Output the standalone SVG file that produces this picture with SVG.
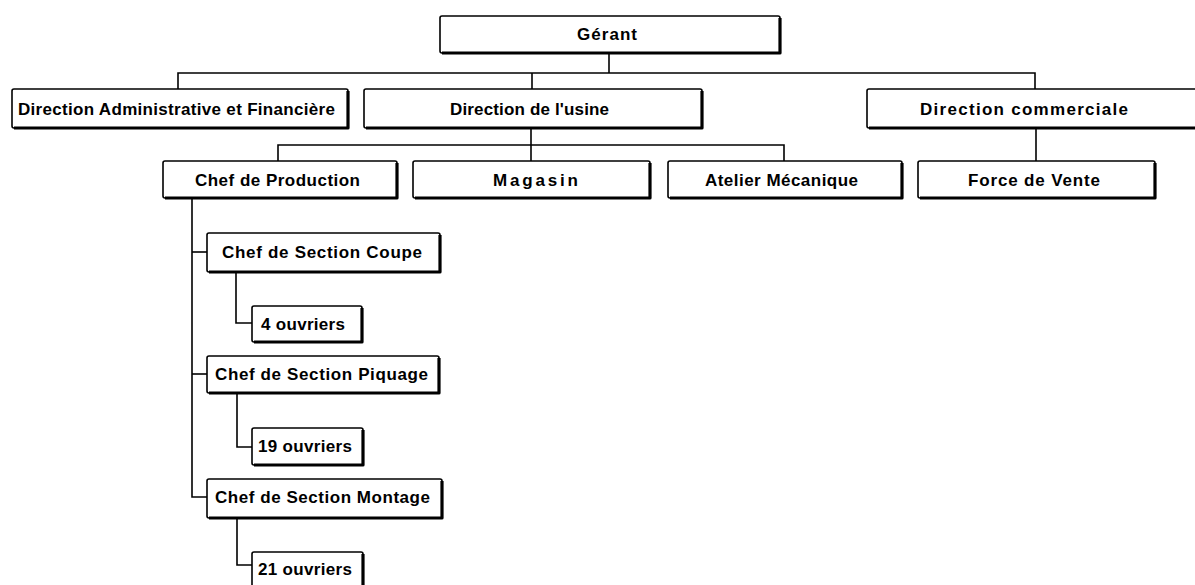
<svg xmlns="http://www.w3.org/2000/svg" width="1195" height="585" viewBox="0 0 1195 585">
<style>
.box{fill:#fff;stroke:#000;stroke-width:1.6}
.sh{fill:none;stroke:#000;stroke-width:3.2;stroke-linejoin:round}
.lbl{font-family:"Liberation Sans",Arial,sans-serif;font-size:17px;font-weight:bold;fill:#000}
.con{fill:none;stroke:#000;stroke-width:1.6}
</style>
<rect width="1195" height="585" fill="#fff"/>
<g id="connectors">
<path class="con" d="M609,53 V73"/>
<path class="con" d="M178,89 V73 H1035 V89"/>
<path class="con" d="M532,73 V89"/>
<path class="con" d="M531,128 V161"/>
<path class="con" d="M278,161 V145 H784 V161"/>
<path class="con" d="M1036,128 V161"/>
<path class="con" d="M192,198 V497 H207"/>
<path class="con" d="M192,252 H207"/>
<path class="con" d="M192,374 H207"/>
<path class="con" d="M236,272 V323 H252"/>
<path class="con" d="M237,393 V447 H252"/>
<path class="con" d="M237,518 V565 H252"/>
</g>
<g id="gerant"><rect class="box" x="440" y="16" width="340" height="37" rx="2"/><path class="sh" d="M780,18 V53 H442"/><text class="lbl" x="577" y="40" textLength="60" lengthAdjust="spacing">Gérant</text></g>
<g id="daf"><rect class="box" x="12" y="89" width="336" height="39" rx="2"/><path class="sh" d="M348,91 V128 H14"/><text class="lbl" x="18" y="115" textLength="317" lengthAdjust="spacing">Direction Administrative et Financière</text></g>
<g id="usine"><rect class="box" x="364" y="89" width="338" height="39" rx="2"/><path class="sh" d="M702,91 V128 H366"/><text class="lbl" x="450" y="115" textLength="159" lengthAdjust="spacing">Direction de l'usine</text></g>
<g id="commerciale"><rect class="box" x="867" y="89" width="340" height="39" rx="2"/><path class="sh" d="M1207,91 V128 H869"/><text class="lbl" x="920" y="115" textLength="208" lengthAdjust="spacing">Direction commerciale</text></g>
<g id="production"><rect class="box" x="163" y="161" width="234" height="37" rx="2"/><path class="sh" d="M397,163 V198 H165"/><text class="lbl" x="195" y="186" textLength="165" lengthAdjust="spacing">Chef de Production</text></g>
<g id="magasin"><rect class="box" x="413" y="161" width="237" height="37" rx="2"/><path class="sh" d="M650,163 V198 H415"/><text class="lbl" x="493" y="186" textLength="85" lengthAdjust="spacing">Magasin</text></g>
<g id="atelier"><rect class="box" x="668" y="161" width="234" height="37" rx="2"/><path class="sh" d="M902,163 V198 H670"/><text class="lbl" x="705" y="186" textLength="153" lengthAdjust="spacing">Atelier Mécanique</text></g>
<g id="vente"><rect class="box" x="918" y="161" width="237" height="37" rx="2"/><path class="sh" d="M1155,163 V198 H920"/><text class="lbl" x="968" y="186" textLength="132" lengthAdjust="spacing">Force de Vente</text></g>
<g id="coupe"><rect class="box" x="207" y="233" width="233" height="39" rx="2"/><path class="sh" d="M440,235 V272 H209"/><text class="lbl" x="222" y="258" textLength="200" lengthAdjust="spacing">Chef de Section Coupe</text></g>
<g id="ouvriers4"><rect class="box" x="252" y="306" width="110" height="36" rx="2"/><path class="sh" d="M362,308 V342 H254"/><text class="lbl" x="261" y="330" textLength="84" lengthAdjust="spacing">4 ouvriers</text></g>
<g id="piquage"><rect class="box" x="207" y="356" width="232" height="37" rx="2"/><path class="sh" d="M439,358 V393 H209"/><text class="lbl" x="215" y="380" textLength="213" lengthAdjust="spacing">Chef de Section Piquage</text></g>
<g id="ouvriers19"><rect class="box" x="252" y="428" width="111" height="37" rx="2"/><path class="sh" d="M363,430 V465 H254"/><text class="lbl" x="258" y="452" textLength="94" lengthAdjust="spacing">19 ouvriers</text></g>
<g id="montage"><rect class="box" x="207" y="479" width="235" height="39" rx="2"/><path class="sh" d="M442,481 V518 H209"/><text class="lbl" x="215" y="503" textLength="215" lengthAdjust="spacing">Chef de Section Montage</text></g>
<g id="ouvriers21"><rect class="box" x="252" y="552" width="111" height="38" rx="2"/><path class="sh" d="M363,554 V590 H254"/><text class="lbl" x="258" y="575" textLength="94" lengthAdjust="spacing">21 ouvriers</text></g>
</svg>
